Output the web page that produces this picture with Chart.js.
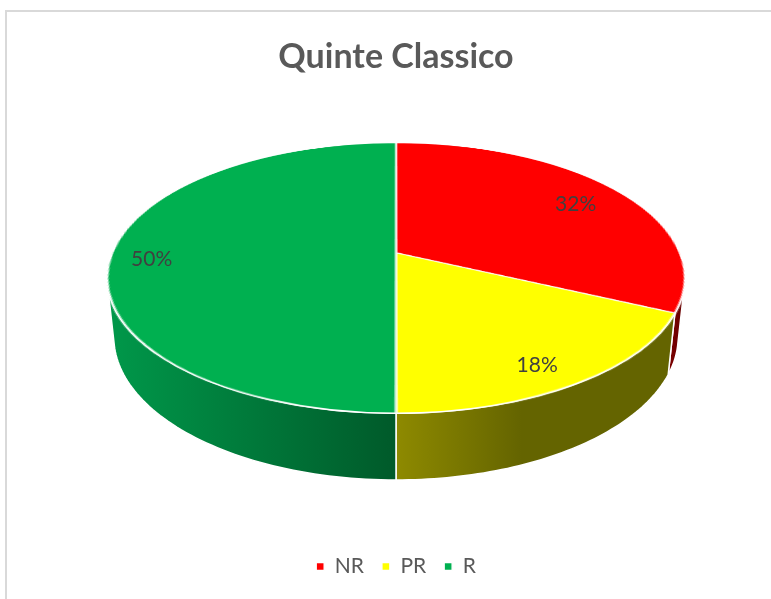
<!DOCTYPE html>
<html>
<head>
<meta charset="utf-8">
<script src="https://cdn.jsdelivr.net/npm/chart.js@4.4.0/dist/chart.umd.min.js"></script>
<style>
  html, body { margin: 0; padding: 0; background: #fff; overflow: hidden; width: 771px; height: 599px; }
  #frame { position: absolute; left: 5px; top: 10px; border-top: 2px solid #d9d9d9; border-left: 2px solid #d9d9d9; }
  canvas { display: block; }
</style>
</head>
<body>
<div id="frame"><canvas id="pie" width="778" height="587"></canvas></div>
<script>
const categories = ['NR', 'PR', 'R'];
const values = [32, 18, 50];
const sliceColors = ['#ff0000', '#ffff00', '#00b050'];
const sideColors = [['#7e0000', '#640000'], ['#8e8a00', '#646400'], ['#00984a', '#005a2a']];
const chartTitle = 'Quinte Classico';

// 3d look
const COS_T = 0.46;       // tilt of the disk
const SIN_T = Math.sqrt(1 - COS_T * COS_T);
const PERSP = 4.76;       // eye distance / radius
const DEPTH = 0.236;      // wall height / radius
const BOTTOM_GAP = 58;    // room between the pie and the legend

function makeView(chart) {
  const a = chart.chartArea;
  const e = SIN_T / PERSP;
  const top = COS_T / (1 + e);
  const bottom = (COS_T + DEPTH * SIN_T) / (1 - e + DEPTH * COS_T / PERSP);
  const R = Math.min((a.bottom - a.top - BOTTOM_GAP) / (top + bottom), (a.right - a.left) / 2.1);
  return { cx: (a.left + a.right) / 2, cy: a.top + R * top, R: R, e: e };
}

// disk point (u, v) at depth hn (fraction of radius) -> screen
function project(view, u, v, hn) {
  const s = 1 / (1 - view.e * v + hn * COS_T / PERSP);
  return { x: view.cx + view.R * u * s, y: view.cy + view.R * (v * COS_T + hn * SIN_T) * s };
}

const pie3d = {
  id: 'pie3d',
  afterDatasetsDraw(chart) {
    const ctx = chart.ctx;
    const a = chart.chartArea;
    const view = makeView(chart);
    const arcs = chart.getDatasetMeta(0).data;
    const ax = arcs[0].x, ay = arcs[0].y, r0 = arcs[0].outerRadius;

    // keep the flat pie the library drew, then wipe the plot area
    const flat = document.createElement('canvas');
    flat.width = chart.canvas.width;
    flat.height = chart.canvas.height;
    flat.getContext('2d').drawImage(chart.canvas, 0, 0);
    ctx.clearRect(a.left, a.top, a.right - a.left, a.bottom - a.top);

    // front wall
    const th0 = Math.asin(1 / (PERSP * SIN_T));
    arcs.forEach((arc, i) => {
      const a1 = Math.max(arc.startAngle, th0);
      const a2 = Math.min(arc.endAngle, Math.PI - th0);
      if (a2 <= a1) return;
      const n = 60;
      const topPts = [], botPts = [];
      for (let k = 0; k <= n; k++) {
        const t = a1 + (a2 - a1) * k / n;
        topPts.push(project(view, Math.cos(t), Math.sin(t), 0));
        botPts.push(project(view, Math.cos(t), Math.sin(t), DEPTH));
      }
      const xs = topPts.concat(botPts).map(p => p.x);
      const grad = ctx.createLinearGradient(Math.min(...xs), 0, Math.max(...xs), 0);
      grad.addColorStop(0, sideColors[i][0]);
      grad.addColorStop(i === 1 ? 0.45 : 1, sideColors[i][1]);
      if (i === 1) grad.addColorStop(1, sideColors[i][1]);
      ctx.save();
      ctx.beginPath();
      topPts.forEach((p, k) => k ? ctx.lineTo(p.x, p.y) : ctx.moveTo(p.x, p.y));
      botPts.reverse().forEach(p => ctx.lineTo(p.x, p.y));
      ctx.closePath();
      ctx.fillStyle = grad;
      ctx.fill();
      ctx.strokeStyle = '#ffffff';
      ctx.lineWidth = 1.5;
      ctx.stroke();
      ctx.restore();
    });

    // top face: lay the flat pie down row by row in perspective
    const B = view.R * COS_T;
    const yTop = Math.floor(project(view, 0, -1, 0).y) - 1;
    const yBot = Math.ceil(project(view, 0, 1, 0).y) + 1;
    ctx.save();
    ctx.imageSmoothingEnabled = true;
    for (let y = yTop; y < yBot; y++) {
      const t0 = y - view.cy, t1 = y + 1 - view.cy;
      const v0 = t0 / (B + view.e * t0);
      const v1 = t1 / (B + view.e * t1);
      if (v1 < -1.02 || v0 > 1.02) continue;
      const s = 1 / (1 - view.e * (v0 + v1) / 2);
      const half = view.R * s;
      ctx.drawImage(flat, ax - r0 - 2, ay + v0 * r0, 2 * r0 + 4, (v1 - v0) * r0,
        view.cx - half * (r0 + 2) / r0, y, 2 * half * (r0 + 2) / r0, 1);
    }
    ctx.restore();

    // percentage labels
    const total = values.reduce((s, v) => s + v, 0);
    ctx.save();
    ctx.font = '21px Lato';
    ctx.fillStyle = '#404040';
    ctx.textAlign = 'center';
    ctx.textBaseline = 'middle';
    arcs.forEach((arc, i) => {
      const mid = (arc.startAngle + arc.endAngle) / 2;
      const p = project(view, 0.84 * Math.cos(mid), 0.84 * Math.sin(mid), 0);
      ctx.fillText(Math.round(values[i] / total * 100) + '%', p.x - 6, p.y + 6);
    });
    ctx.restore();
  }
};

new Chart(document.getElementById('pie'), {
  type: 'pie',
  data: {
    labels: categories,
    datasets: [{
      data: values,
      backgroundColor: sliceColors,
      borderColor: '#ffffff',
      borderWidth: 1.4
    }]
  },
  options: {
    responsive: false,
    animation: false,
    events: [],
    layout: { padding: { bottom: 12 } },
    plugins: {
      title: {
        display: true,
        text: chartTitle,
        color: '#595959',
        font: { family: 'Lato', size: 34, weight: 'bold' },
        padding: { top: 25, bottom: 65 }
      },
      legend: {
        display: true,
        position: 'bottom',
        labels: {
          color: '#595959',
          font: { family: 'Lato', size: 21 },
          boxWidth: 8,
          boxHeight: 8,
          padding: 18
        }
      },
      tooltip: { enabled: false }
    }
  },
  plugins: [pie3d]
});
</script>
</body>
</html>
